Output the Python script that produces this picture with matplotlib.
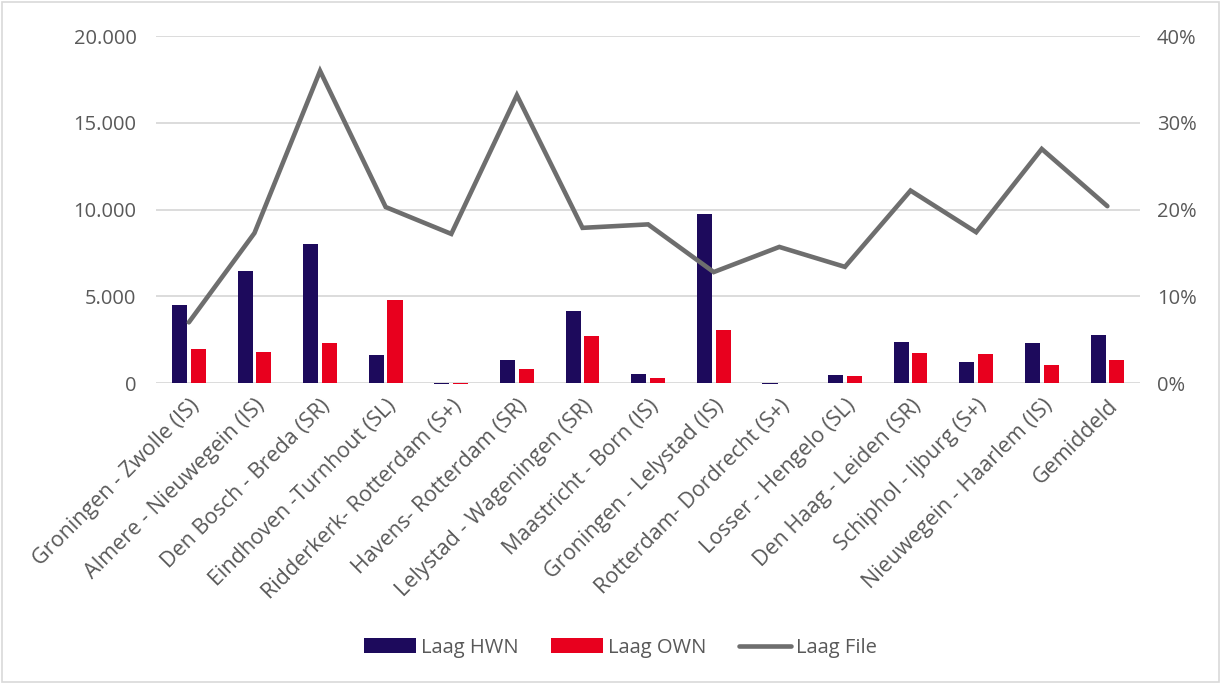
import matplotlib
matplotlib.use("Agg")
import matplotlib.pyplot as plt
import numpy as np
from matplotlib.ticker import FuncFormatter
from matplotlib.patches import Rectangle

categories = [
    "Groningen - Zwolle (IS)", "Almere - Nieuwegein (IS)", "Den Bosch - Breda (SR)",
    "Eindhoven -Turnhout (SL)", "Ridderkerk- Rotterdam (S+)", "Havens- Rotterdam (SR)",
    "Lelystad - Wageningen (SR)", "Maastricht - Born (IS)", "Groningen - Lelystad (IS)",
    "Rotterdam- Dordrecht (S+)", "Losser - Hengelo (SL)", "Den Haag - Leiden (SR)",
    "Schiphol - Ijburg (S+)", "Nieuwegein - Haarlem (IS)", "Gemiddeld",
]
laag_hwn = [4500, 6480, 8010, 1610, -70, 1310, 4150, 500, 9740, -80, 440, 2360, 1230, 2290, 2770]
laag_own = [1960, 1770, 2290, 4780, -70, 790, 2710, 270, 3050, -20, 400, 1710, 1650, 1020, 1330]
laag_file = [0.070, 0.173, 0.360, 0.203, 0.172, 0.332, 0.179, 0.183, 0.128, 0.157, 0.134, 0.222, 0.174, 0.270, 0.204]

plt.rcParams['font.family'] = ['Open Sans', 'DejaVu Sans']
text_col = '#595959'
grid_col = '#D9D9D9'
c_hwn = '#1D0A5C'
c_own = '#E8001E'
c_file = '#6E6E6E'

fig = plt.figure(figsize=(12.21, 6.84), dpi=100)
ax = fig.add_axes([0.1278, 0.44, 0.806, 0.507])
ax2 = ax.twinx()

x = np.arange(len(categories))
w = 0.229
off = 0.142
ax.bar(x - off, laag_hwn, w, color=c_hwn, label='Laag HWN', zorder=3, clip_on=False)
ax.bar(x + off, laag_own, w, color=c_own, label='Laag OWN', zorder=3, clip_on=False)
ax2.plot(x, laag_file, color=c_file, lw=3.3, label='Laag File', solid_capstyle='round', solid_joinstyle='miter')

ax.set_xlim(-0.5, len(categories) - 0.5)
ax.set_ylim(0, 20000)
ax.set_yticks([0, 5000, 10000, 15000, 20000])
ax.yaxis.set_major_formatter(FuncFormatter(lambda v, p: f"{int(v):,}".replace(",", ".")))
ax2.set_ylim(0, 0.40)
ax2.set_yticks([0, 0.1, 0.2, 0.3, 0.4])
ax2.yaxis.set_major_formatter(FuncFormatter(lambda v, p: f"{round(v*100)}%"))

ax.grid(axis='y', color=grid_col, lw=1.3, zorder=0)
ax.set_axisbelow(True)
for a in (ax, ax2):
    for s in a.spines.values():
        s.set_visible(False)
    a.tick_params(length=0, colors=text_col, labelsize=14.5)
ax.tick_params(axis='y', pad=14)
ax2.tick_params(axis='y', pad=12)

ax.set_xticks(x)
ax.set_xticklabels(categories, rotation=45, ha='right', rotation_mode='anchor', fontsize=15.5, color=text_col)
ax.tick_params(axis='x', pad=9)

h1, l1 = ax.get_legend_handles_labels()
h2, l2 = ax2.get_legend_handles_labels()
leg = fig.legend(h1 + h2, l1 + l2, loc='center', bbox_to_anchor=(0.508, 0.053), ncol=3,
                 frameon=False, fontsize=14.5, labelcolor=text_col, handlelength=2.6,
                 handleheight=0.75, handletextpad=0.25, columnspacing=1.6)

fig.patches.append(Rectangle((0.002, 0.003), 0.996, 0.994, transform=fig.transFigure,
                             fill=False, edgecolor=grid_col, lw=1.2))

fig.savefig('out.png', dpi=100)
